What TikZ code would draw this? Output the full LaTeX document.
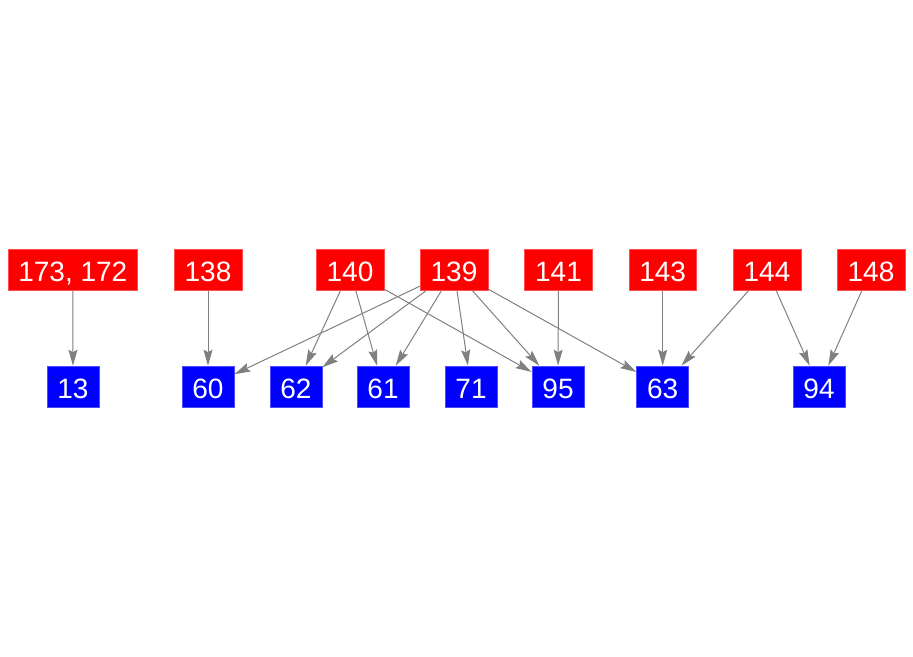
\documentclass[tikz,border=0pt]{standalone}
\usepackage{fontspec}
\setmainfont{Liberation Sans}
\usetikzlibrary{arrows.meta}
\begin{document}
\begin{tikzpicture}[x=1pt,y=-1pt,
  boxbase/.style={line width=0.6pt,text=white,font=\fontsize{28}{30}\selectfont,inner xsep=10.5pt,inner ysep=0pt,minimum height=41.4pt,text height=23.4pt,text depth=0pt},
  redbox/.style={boxbase,fill=red,draw=red!70!white},
  bluebox/.style={boxbase,fill=blue,draw=blue!70!white},
  edge/.style={draw=gray,line width=1pt,-{Stealth[length=16pt,width=9pt,inset=2.5pt]}}]
\useasboundingbox (0,0) rectangle (913,656);
% top row
\node[redbox] (n173) at (72.8,270) {173, 172};
\node[redbox] (n138) at (208,270) {138};
\node[redbox] (n140) at (350,270) {140};
\node[redbox] (n139) at (454,270) {139};
\node[redbox] (n141) at (558.5,270) {141};
\node[redbox] (n143) at (662.7,270) {143};
\node[redbox] (n144) at (767,270) {144};
\node[redbox] (n148) at (871,270) {148};
% bottom row
\node[bluebox] (n13) at (73,386.7) {13};
\node[bluebox] (n60) at (208,386.7) {60};
\node[bluebox] (n62) at (296,386.7) {62};
\node[bluebox] (n61) at (383,386.7) {61};
\node[bluebox] (n71) at (471,386.7) {71};
\node[bluebox] (n95) at (558,386.7) {95};
\node[bluebox] (n63) at (662.7,386.7) {63};
\node[bluebox] (n94) at (819,386.7) {94};
% edges
\draw[edge] (n173) -- (n13);
\draw[edge] (n138) -- (n60);
\draw[edge] (n140) -- (n62);
\draw[edge] (n140) -- (n61);
\draw[edge] (n140) -- (n95);
\draw[edge] (n139) -- (n60);
\draw[edge] (n139) -- (n62);
\draw[edge] (n139) -- (n61);
\draw[edge] (n139) -- (n71);
\draw[edge] (n139) -- (n95);
\draw[edge] (n139) -- (n63);
\draw[edge] (n141) -- (n95);
\draw[edge] (n143) -- (n63);
\draw[edge] (n144) -- (n63);
\draw[edge] (n144) -- (n94);
\draw[edge] (n148) -- (n94);
\end{tikzpicture}
\end{document}
